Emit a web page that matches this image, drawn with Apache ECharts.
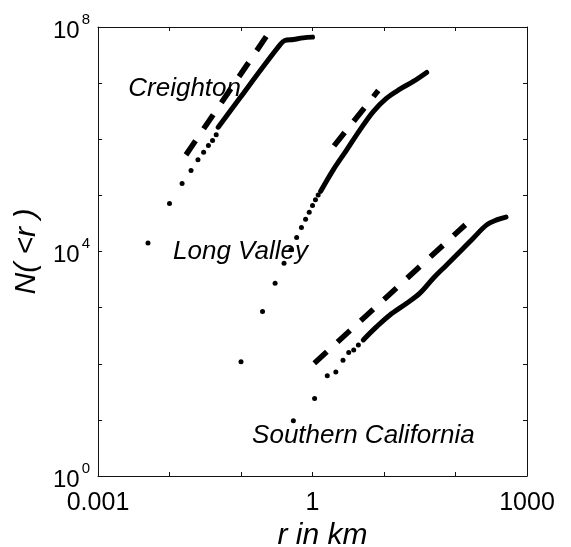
<!DOCTYPE html>
<html>
<head>
<meta charset="utf-8">
<script src="https://cdn.jsdelivr.net/npm/echarts@6/dist/echarts.min.js"></script>
<style>
html, body { margin: 0; padding: 0; background: #fff; }
#eChart { width: 571px; height: 547px; }
</style>
</head>
<body>
<div id="eChart"></div>
<script>
// values (r in km, N(<r))
var creightonDotR = [0.005, 0.01, 0.015, 0.02, 0.025, 0.03, 0.035, 0.04, 0.045];
var creightonDotN = [14200, 71400, 162000, 277000, 430000, 589000, 772000, 948000, 1200000];
var creightonCurveR = [0.048, 0.097, 0.194, 0.351, 0.41, 0.54, 0.74, 1.0];
var creightonCurveN = [1.64e6, 5.47e6, 1.8e7, 4.82e7, 5.75e7, 6.0e7, 6.4e7, 6.6e7];
var creightonFitR = [0.017, 0.229];
var creightonFitN = [5.27e5, 6.97e7];

var longValleyDotR = [0.1, 0.2, 0.3, 0.4, 0.5, 0.6, 0.7, 0.8, 0.9, 1.0, 1.1, 1.2];
var longValleyDotN = [108, 849, 2720, 6180, 10700, 17700, 26700, 37600, 50200, 65800, 83200, 102000];
var longValleyCurveR = [1.3, 1.95, 3.01, 4.61, 7.08, 10.9, 16.7, 25.7, 39.5];
var longValleyCurveN = [118000, 285000, 647000, 1.47e6, 3.12e6, 5.41e6, 7.82e6, 1.07e7, 1.55e7];
var longValleyFitR = [2.0, 8.32];
var longValleyFitN = [7.63e5, 7.38e6];

var socalDotR = [0.54, 1.07, 1.61, 2.12, 2.67, 3.21, 3.77, 4.38];
var socalDotN = [9.6, 24, 61, 71, 115, 158, 176, 216];
var socalCurveR = [5.13, 7.9, 12.1, 20.8, 31.8, 48.9, 75.3, 116, 177, 273, 377, 508];
var socalCurveN = [266, 458, 741, 1200, 1810, 3350, 5770, 9960, 17300, 29800, 36500, 40900];
var socalFitR = [1.06, 137];
var socalFitN = [102, 29800];

var labelNames = ['Creighton', 'Long Valley', 'Southern California'];
var labelR = [0.00265, 0.0112, 0.143];
var labelN = [8.0e6, 9840, 5.2];

var xTickLabels = { '-3': '0.001', '0': '1', '3': '1000' };
var yLabelPowers = [0, 4, 8];

var FONT = 'Liberation Sans';

function pairs(xs, ys) {
    var d = [];
    for (var i = 0; i < xs.length; i++) d.push([xs[i], ys[i]]);
    return d;
}

function dots(name, xs, ys) {
    return {
        name: name, type: 'scatter', symbol: 'circle', symbolSize: 5,
        itemStyle: { color: '#000', opacity: 1 }, data: pairs(xs, ys), z: 3
    };
}
function curve(name, xs, ys) {
    return {
        name: name, type: 'line', smooth: 0.35, showSymbol: false,
        lineStyle: { color: '#000', width: 5, cap: 'round' },
        data: pairs(xs, ys), z: 3
    };
}
function fit(name, xs, ys) {
    return {
        name: name, type: 'line', showSymbol: false,
        lineStyle: { color: '#000', width: 5.5, type: [17, 14.5] },
        data: pairs(xs, ys), z: 2
    };
}

var axisLine = { show: true, lineStyle: { color: '#111', width: 1 } };
var axisTick = { show: true, inside: true, length: 4, lineStyle: { color: '#111', width: 1 } };

var option = {
    backgroundColor: '#fff',
    animation: false,
    grid: { left: 98, right: 44, top: 27, bottom: 71, outerBoundsMode: 'none', containLabel: false },
    xAxis: [
        {
            type: 'log', logBase: 10, min: 0.001, max: 1000, interval: 1,
            position: 'bottom',
            axisLine: axisLine, axisTick: axisTick,
            splitLine: { show: false }, minorTick: { show: false },
            axisLabel: {
                color: '#000', fontFamily: FONT, fontSize: 25, margin: 15,
                showMinLabel: true, showMaxLabel: true, hideOverlap: false,
                formatter: function (v) {
                    var e = Math.round(Math.log10(v));
                    return xTickLabels[e] || '';
                }
            },
            name: 'r in km', nameLocation: 'middle', nameGap: 38,
            nameTextStyle: { color: '#000', fontFamily: FONT, fontSize: 30, fontStyle: 'italic', padding: [0, 0, 0, 20] }
        },
        {
            type: 'log', logBase: 10, min: 0.001, max: 1000, interval: 1,
            position: 'top',
            axisLine: axisLine, axisTick: axisTick,
            splitLine: { show: false }, axisLabel: { show: false }
        }
    ],
    yAxis: [
        {
            type: 'log', logBase: 10, min: 1, max: 1e8, interval: 1,
            position: 'left',
            axisLine: axisLine, axisTick: axisTick,
            splitLine: { show: false }, minorTick: { show: false },
            axisLabel: {
                color: '#000', fontFamily: FONT, margin: 8,
                showMinLabel: true, showMaxLabel: true, hideOverlap: false,
                formatter: function (v) {
                    var e = Math.round(Math.log10(v));
                    if (yLabelPowers.indexOf(e) < 0) return '';
                    return '{b|10}{s|' + e + '}';
                },
                rich: {
                    b: { fontFamily: FONT, fontSize: 24, color: '#000', lineHeight: 30, padding: [8, 0, 0, 0] },
                    s: { fontFamily: FONT, fontSize: 15, color: '#000', verticalAlign: 'top', padding: [0, 0, 0, 2] }
                }
            },
            name: 'N( <r )', nameLocation: 'middle', nameGap: 53, nameRotate: 90,
            nameTextStyle: { color: '#000', fontFamily: FONT, fontSize: 30, fontStyle: 'italic' }
        },
        {
            type: 'log', logBase: 10, min: 1, max: 1e8, interval: 1,
            position: 'right',
            axisLine: axisLine, axisTick: axisTick,
            splitLine: { show: false }, axisLabel: { show: false }
        }
    ],
    series: [
        fit('Creighton fit', creightonFitR, creightonFitN),
        dots('Creighton', creightonDotR, creightonDotN),
        curve('Creighton curve', creightonCurveR, creightonCurveN),
        fit('Long Valley fit', longValleyFitR, longValleyFitN),
        dots('Long Valley', longValleyDotR, longValleyDotN),
        curve('Long Valley curve', longValleyCurveR, longValleyCurveN),
        fit('Southern California fit', socalFitR, socalFitN),
        dots('Southern California', socalDotR, socalDotN),
        curve('Southern California curve', socalCurveR, socalCurveN),
        {
            name: 'labels', type: 'scatter', symbolSize: 0, z: 5,
            itemStyle: { opacity: 1 },
            data: labelNames.map(function (n, i) { return { name: n, value: [labelR[i], labelN[i]] }; }),
            label: {
                show: true, position: 'right', distance: 0,
                formatter: '{b}', color: '#000', opacity: 1,
                fontFamily: FONT, fontSize: 26, fontStyle: 'italic'
            }
        }
    ]
};

var chart = echarts.init(document.getElementById('eChart'));
chart.setOption(option);
</script>
</body>
</html>
